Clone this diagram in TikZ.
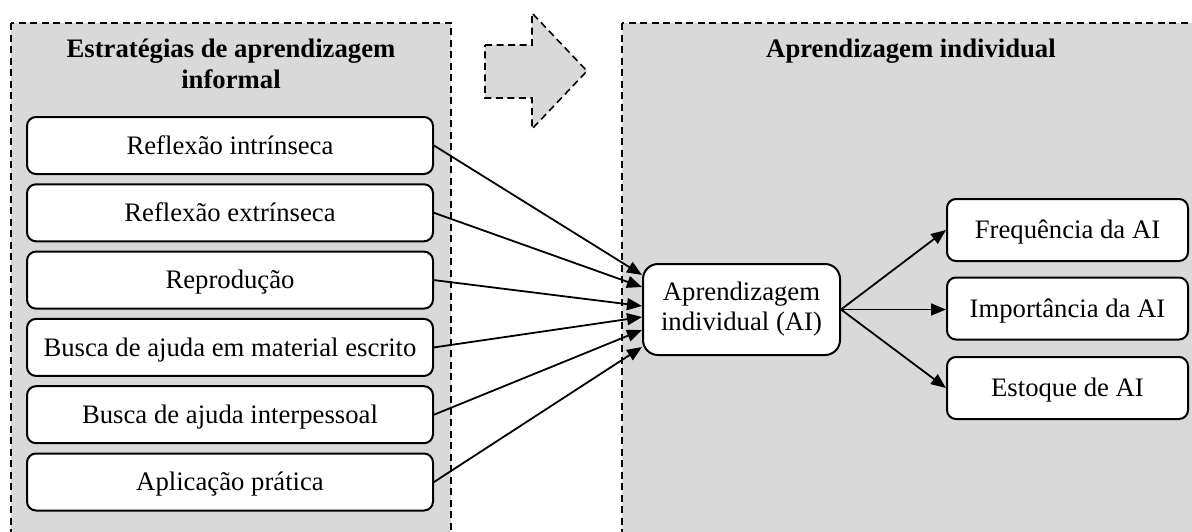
\documentclass[tikz,border=0pt]{standalone}
\usepackage{fontspec}
\setmainfont{Liberation Serif}
\usetikzlibrary{arrows.meta}
\definecolor{panelgray}{RGB}{217,217,217}
\begin{document}
\begin{tikzpicture}[x=1pt,y=-1pt,
  panel/.style={draw=black, fill=panelgray, dash pattern=on 7pt off 4.5pt, line width=1.6pt},
  boxbase/.style={draw=black, fill=white, line width=2pt, inner sep=0pt},
  lbox/.style={boxbase, rounded corners=9pt, minimum width=406pt, minimum height=57pt, text height=17.7pt, text depth=0pt},
  rbox/.style={boxbase, rounded corners=9pt, minimum width=241pt, minimum height=62pt, text height=17.7pt, text depth=0pt},
  aibox/.style={boxbase, rounded corners=15pt, minimum width=197pt, minimum height=91pt, align=center},
  title/.style={font=\fontsize{26.7}{31}\selectfont\bfseries, align=center},
  conn/.style={line width=1.8pt, -{Triangle[length=15pt,width=12pt]}},
  font=\fontsize{26.7}{30}\selectfont]
\useasboundingbox (0,0) rectangle (1192,531);
\begin{scope}
  \clip (0,0) rectangle (1192,531);
  \draw[panel] (11,23) rectangle (451,545);
  \draw[panel] (622,23) rectangle (1205,545);
\end{scope}
\draw[panel] (485,45) -- (532,45) -- (532,13) -- (587,71) -- (532,129) -- (532,98) -- (485,98) -- cycle;

\node[title, anchor=base] (t1) at (231,88) {Estratégias de aprendizagem\\informal};
\node[title, anchor=base] (t2) at (911,57) {Aprendizagem individual};

\node[lbox] (s1) at (230,145.5) {Reflexão intrínseca};
\node[lbox] (s2) at (230,212.8) {Reflexão extrínseca};
\node[lbox] (s3) at (230,280.1) {Reprodução};
\node[lbox] (s4) at (230,347.4) {Busca de ajuda em material escrito};
\node[lbox] (s5) at (230,414.7) {Busca de ajuda interpessoal};
\node[lbox] (s6) at (230,482) {Aplicação prática};

\node[aibox] (ai) at (741.5,309.5) {Aprendizagem\\individual (AI)};

\node[rbox] (r1) at (1067.5,230) {Frequência da AI};
\node[rbox] (r2) at (1067.5,308.5) {Importância da AI};
\node[rbox] (r3) at (1067.5,388) {Estoque de AI};

\draw[conn] (s1.east) -- ([yshift=34.5pt]ai.west);
\draw[conn] (s2.east) -- ([yshift=22.5pt]ai.west);
\draw[conn] (s3.east) -- ([yshift=3.5pt]ai.west);
\draw[conn] (s4.east) -- ([yshift=-7.5pt]ai.west);
\draw[conn] (s5.east) -- ([yshift=-20.5pt]ai.west);
\draw[conn] (s6.east) -- ([yshift=-37.5pt]ai.west);

\draw[conn] (ai.east) -- (r1.west);
\draw[conn] (ai.east) -- (ai.east -| r2.west);
\draw[conn] (ai.east) -- (r3.west);
\end{tikzpicture}
\end{document}
